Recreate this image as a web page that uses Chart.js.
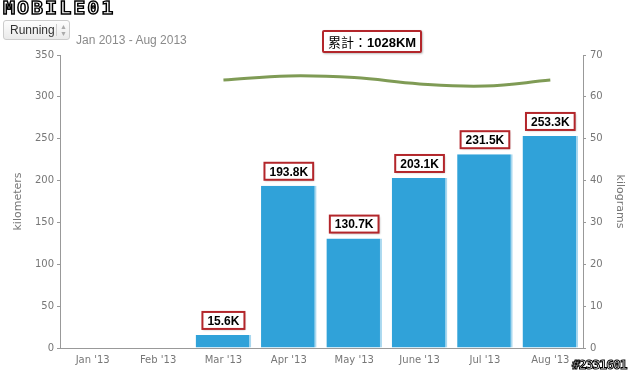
<!DOCTYPE html>
<html lang="zh-Hant">
<head>
  <meta charset="UTF-8">
  <title>Running</title>
  <script src="https://cdn.jsdelivr.net/npm/chart.js"></script>
  <style>
    html, body { margin: 0; padding: 0; background: #fff; }
    #wrap { position: relative; width: 640px; height: 375px; overflow: hidden; }
    #chart { position: absolute; left: 0; top: 0; }
    .logo { position: absolute; left: 3px; top: -2px; font: bold 20px "DejaVu Sans Mono", monospace; letter-spacing: 2px;
      color: #fff; -webkit-text-stroke: 1.5px #000; transform: scaleY(0.85); transform-origin: left top; }
    .picker { position: absolute; left: 3px; top: 20px; width: 67px; height: 20px; border: 1px solid #ccc; border-radius: 3px;
      background: linear-gradient(#fdfdfd, #eaeaea); font: 12px "Liberation Sans", Arial, sans-serif; color: #333; box-sizing: border-box; }
    .picker span { position: absolute; left: 6px; top: 2px; }
    .picker i { position: absolute; left: 52px; top: 3px; width: 1px; height: 12px; background: #ccc; }
    .picker b { position: absolute; left: 56px; top: 2px; font-size: 7px; line-height: 7px; color: #aaa; font-weight: normal; }
    .range { position: absolute; left: 76px; top: 33px; font: 12px "Liberation Sans", Arial, sans-serif; color: #8a8a8a; }
    .total { position: absolute; left: 322px; top: 30px; height: 19px; padding: 0 4px; border: 2px solid #b3262b; border-radius: 2px;
      font: 13px "Noto Sans CJK TC", "Liberation Sans", sans-serif; line-height: 19px; color: #000; background: #fff;
      box-shadow: 1px 1px 2px rgba(0,0,0,0.25); }
    .total b { font-family: "Liberation Sans", Arial, sans-serif; }
    .mark { position: absolute; left: 572px; top: 357px; font: bold 13px "DejaVu Sans Mono", monospace; color: #fff;
      -webkit-text-stroke: 1px #000; letter-spacing: -1px; }
  </style>
</head>
<body>
<div id="wrap">
  <canvas id="chart" width="640" height="375"></canvas>
  <div class="logo">MOBILE01</div>
  <div class="picker"><span>Running</span><i></i><b>▲<br>▼</b></div>
  <div class="range">Jan 2013 - Aug 2013</div>
  <div class="total">累計：<b>1028KM</b></div>
  <div class="mark">#2331601</div>
</div>

<script>
// monthly data
const months = ["Jan '13", "Feb '13", "Mar '13", "Apr '13", "May '13", "June '13", "Jul '13", "Aug '13"];
const distance = [0, 0, 15.6, 193.8, 130.7, 203.1, 231.5, 253.3];   // kilometers
const distanceLabels = ["", "", "15.6K", "193.8K", "130.7K", "203.1K", "231.5K", "253.3K"];
const weight = [null, null, 64.0, 65.0, 64.6, 63.1, 62.6, 64.0];     // kilograms

const tickFont = { family: "DejaVu Sans", size: 10 };
const axisGrey = '#999';

// boxed value labels above the bars
const barLabels = {
  id: 'barLabels',
  afterDatasetsDraw(chart) {
    const ctx = chart.ctx;
    const meta = chart.getDatasetMeta(1);
    ctx.save();
    ctx.font = 'bold 12px "Liberation Sans", Arial, sans-serif';
    ctx.textAlign = 'center';
    ctx.textBaseline = 'middle';
    meta.data.forEach((bar, i) => {
      const txt = distanceLabels[i];
      if (!txt) return;
      const w = ctx.measureText(txt).width + 10;
      const h = 17;
      const x = bar.x - w / 2;
      const y = bar.y - 6 - h;
      ctx.shadowColor = 'rgba(0,0,0,0.25)';
      ctx.shadowBlur = 2;
      ctx.shadowOffsetX = 1;
      ctx.shadowOffsetY = 1;
      ctx.fillStyle = '#fff';
      ctx.fillRect(x, y, w, h);
      ctx.shadowColor = 'transparent';
      ctx.strokeStyle = '#b3262b';
      ctx.lineWidth = 2;
      ctx.strokeRect(x, y, w, h);
      ctx.fillStyle = '#000';
      ctx.fillText(txt, bar.x, y + h / 2 + 1);
    });
    ctx.restore();
  }
};

new Chart(document.getElementById('chart'), {
  data: {
    labels: months,
    datasets: [
      {
        type: 'line',
        label: 'kilograms',
        data: weight,
        yAxisID: 'y1',
        borderColor: '#7f9b55',
        borderWidth: 3,
        pointRadius: 0,
        tension: 0.4,
        order: 0
      },
      {
        type: 'bar',
        label: 'kilometers',
        data: distance,
        yAxisID: 'y',
        backgroundColor: '#30a2d9',
        borderColor: '#a9d8ef',
        borderWidth: { right: 2, top: 0, left: 0, bottom: 0 },
        barPercentage: 0.85,
        categoryPercentage: 1,
        order: 1
      }
    ]
  },
  options: {
    responsive: false,
    animation: false,
    layout: { padding: { top: 55, left: 0, right: 0, bottom: 0 } },
    plugins: { legend: { display: false }, tooltip: { enabled: false } },
    scales: {
      x: {
        grid: { display: false, drawTicks: false },
        border: { color: axisGrey, width: 1 },
        ticks: { color: '#777', font: tickFont, padding: 6, maxRotation: 0 },
        afterFit: s => { s.height = 27; }
      },
      y: {
        position: 'left',
        min: 0, max: 350,
        grid: { drawOnChartArea: false, tickLength: 3, color: axisGrey },
        border: { color: axisGrey, width: 1 },
        ticks: { stepSize: 50, color: '#777', font: tickFont, padding: 3 },
        title: { display: true, text: 'kilometers', color: '#777', font: { family: "DejaVu Sans", size: 11 }, padding: { top: 12 } },
        afterFit: s => { s.width = 60; }
      },
      y1: {
        position: 'right',
        min: 0, max: 70,
        grid: { drawOnChartArea: false, tickLength: 3, color: axisGrey },
        border: { color: axisGrey, width: 1 },
        ticks: { stepSize: 10, color: '#777', font: tickFont, padding: 4 },
        title: { display: true, text: 'kilograms', color: '#777', font: { family: "DejaVu Sans", size: 11 }, padding: { top: 14 } },
        afterFit: s => { s.width = 57; }
      }
    }
  },
  plugins: [barLabels]
});
</script>
</body>
</html>
